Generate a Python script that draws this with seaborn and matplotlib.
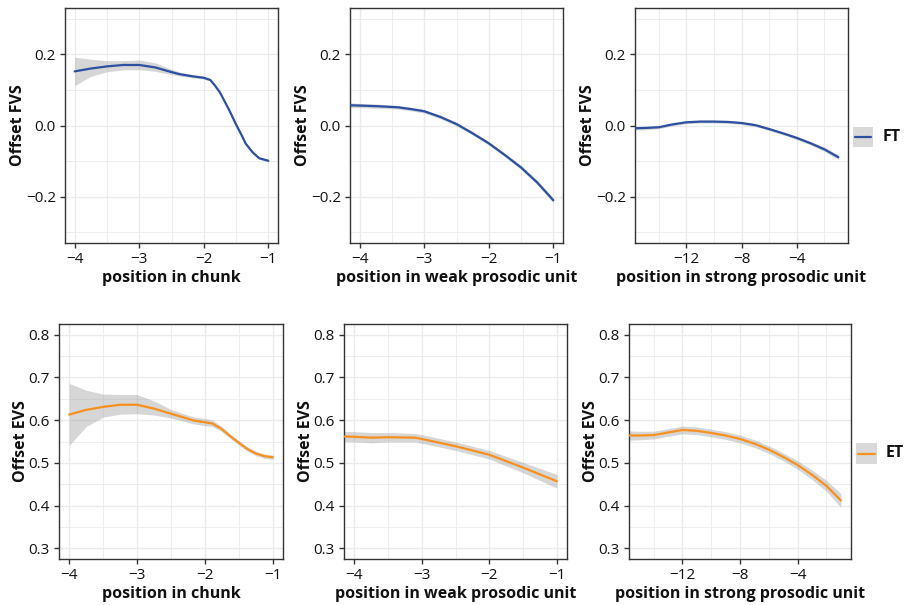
import numpy as np
import pandas as pd
import matplotlib
matplotlib.use("Agg")
import matplotlib.pyplot as plt
import seaborn as sns

sns.set_theme(style="white")
plt.rcParams['font.family'] = ['Open Sans', 'DejaVu Sans']

# ---------------- data ----------------
# FT, position in chunk
ft_chunk_x = [-4, -3.75, -3.5, -3.25, -3, -2.75, -2.5, -2.37, -2.17, -2, -1.9, -1.83, -1.75, -1.68, -1.6, -1.5, -1.42, -1.35, -1.24, -1.14, -1]
ft_chunk_y = [0.152, 0.160, 0.166, 0.170, 0.170, 0.163, 0.150, 0.144, 0.138, 0.134, 0.128, 0.113, 0.093, 0.069, 0.041, 0.003, -0.025, -0.051, -0.076, -0.092, -0.099]
ft_chunk_lo = [0.112, 0.138, 0.151, 0.156, 0.157, 0.152, 0.143, 0.139, 0.134, 0.130, 0.125, 0.110, 0.090, 0.066, 0.038, 0.000, -0.028, -0.054, -0.079, -0.095, -0.102]
ft_chunk_hi = [0.192, 0.186, 0.182, 0.182, 0.184, 0.176, 0.158, 0.150, 0.143, 0.138, 0.131, 0.116, 0.096, 0.072, 0.044, 0.006, -0.022, -0.048, -0.073, -0.089, -0.096]

# FT, position in weak prosodic unit
ft_weak_x = [-4.2, -4, -3.7, -3.4, -3.2, -3, -2.75, -2.5, -2.25, -2, -1.75, -1.5, -1.25, -1]
ft_weak_y = [0.057, 0.056, 0.054, 0.051, 0.046, 0.040, 0.024, 0.004, -0.022, -0.050, -0.083, -0.118, -0.160, -0.210]
ft_weak_lo = [0.050, 0.050, 0.048, 0.046, 0.041, 0.035, 0.019, -0.001, -0.027, -0.055, -0.088, -0.124, -0.166, -0.217]
ft_weak_hi = [0.064, 0.062, 0.060, 0.056, 0.051, 0.045, 0.029, 0.009, -0.017, -0.045, -0.078, -0.112, -0.154, -0.203]

# FT, position in strong prosodic unit
ft_strong_x = [-16, -15, -14, -13, -12, -11, -10, -9, -8, -7, -6, -5, -4, -3, -2, -1]
ft_strong_y = [-0.008, -0.007, -0.005, 0.003, 0.009, 0.011, 0.011, 0.010, 0.007, 0.001, -0.010, -0.022, -0.035, -0.050, -0.067, -0.089]
ft_strong_lo = [-0.013, -0.012, -0.009, -0.001, 0.005, 0.007, 0.007, 0.006, 0.003, -0.003, -0.014, -0.026, -0.040, -0.055, -0.073, -0.096]
ft_strong_hi = [-0.003, -0.002, -0.001, 0.007, 0.013, 0.015, 0.015, 0.014, 0.011, 0.005, -0.006, -0.018, -0.030, -0.045, -0.061, -0.082]

# ET, position in chunk
et_chunk_x = [-4, -3.75, -3.5, -3.25, -3, -2.75, -2.5, -2.35, -2.16, -2, -1.89, -1.76, -1.64, -1.5, -1.38, -1.25, -1.13, -1]
et_chunk_y = [0.613, 0.624, 0.631, 0.636, 0.636, 0.627, 0.615, 0.608, 0.599, 0.595, 0.592, 0.580, 0.564, 0.547, 0.533, 0.522, 0.516, 0.513]
et_chunk_lo = [0.541, 0.585, 0.607, 0.614, 0.615, 0.612, 0.605, 0.599, 0.591, 0.587, 0.585, 0.574, 0.559, 0.542, 0.528, 0.517, 0.511, 0.508]
et_chunk_hi = [0.686, 0.670, 0.661, 0.660, 0.660, 0.645, 0.625, 0.617, 0.607, 0.604, 0.600, 0.586, 0.569, 0.552, 0.538, 0.527, 0.521, 0.518]

# ET, position in weak prosodic unit
et_weak_x = [-4.2, -4, -3.75, -3.5, -3.1, -3, -2.5, -2, -1.5, -1]
et_weak_y = [0.562, 0.561, 0.559, 0.560, 0.559, 0.556, 0.539, 0.519, 0.489, 0.457]
et_weak_lo = [0.550, 0.549, 0.547, 0.549, 0.549, 0.546, 0.529, 0.509, 0.477, 0.441]
et_weak_hi = [0.574, 0.573, 0.571, 0.571, 0.569, 0.566, 0.549, 0.529, 0.501, 0.473]

# ET, position in strong prosodic unit
et_strong_x = [-16, -15, -14, -13, -12, -11, -10, -9, -8, -7, -6, -5, -4, -3, -2, -1]
et_strong_y = [0.564, 0.564, 0.565, 0.571, 0.577, 0.575, 0.570, 0.564, 0.556, 0.545, 0.531, 0.514, 0.495, 0.472, 0.446, 0.412]
et_strong_lo = [0.553, 0.554, 0.556, 0.562, 0.568, 0.566, 0.561, 0.555, 0.547, 0.536, 0.522, 0.505, 0.485, 0.461, 0.433, 0.396]
et_strong_hi = [0.575, 0.574, 0.574, 0.580, 0.586, 0.584, 0.579, 0.573, 0.565, 0.554, 0.540, 0.523, 0.505, 0.483, 0.459, 0.428]

x_labels = ["position in chunk", "position in weak prosodic unit", "position in strong prosodic unit"]
row_ylabels = ["Offset FVS", "Offset EVS"]
groups = ["FT", "ET"]
colors = {"FT": "#2D4FA1", "ET": "#F7901E"}

chunk_ticks = [-4, -3, -2, -1]
strong_ticks = [-12, -8, -4]
ft_yticks = [-0.2, 0.0, 0.2]
et_yticks = [0.3, 0.4, 0.5, 0.6, 0.7, 0.8]

# --------------- layout ---------------
W, H = 907, 605
fig = plt.figure(figsize=(W / 100, H / 100), dpi=100)

def ax_at(l, r, t, b):
    return fig.add_axes([l / W, 1 - b / H, (r - l) / W, (b - t) / H])

top_boxes = [(65, 278), (350, 563), (635, 848)]
bot_boxes = [(59, 283), (344, 567), (629, 851)]

panels = [
    (0, 0, ft_chunk_x, ft_chunk_y, ft_chunk_lo, ft_chunk_hi),
    (0, 1, ft_weak_x, ft_weak_y, ft_weak_lo, ft_weak_hi),
    (0, 2, ft_strong_x, ft_strong_y, ft_strong_lo, ft_strong_hi),
    (1, 0, et_chunk_x, et_chunk_y, et_chunk_lo, et_chunk_hi),
    (1, 1, et_weak_x, et_weak_y, et_weak_lo, et_weak_hi),
    (1, 2, et_strong_x, et_strong_y, et_strong_lo, et_strong_hi),
]

grid_col = "#EBEBEB"
for row, col, xs, ys, lo, hi in panels:
    if row == 0:
        l, r = top_boxes[col]
        ax = ax_at(l, r, 8, 243)
    else:
        l, r = bot_boxes[col]
        ax = ax_at(l, r, 324, 559)
    g = groups[row]
    df = pd.DataFrame({"x": xs, "y": ys, "lo": lo, "hi": hi, "group": g})
    ax.fill_between(df["x"], df["lo"], df["hi"], color="#999999", alpha=0.4, linewidth=0, zorder=2)
    sns.lineplot(data=df, x="x", y="y", color=colors[g], linewidth=1.6, ax=ax, zorder=3,
                 estimator=None, sort=False)

    # x scale
    if col < 2:
        ax.set_xlim(-4.15, -0.85)
        ax.set_xticks(chunk_ticks)
        ax.set_xticklabels([f"\u2212{abs(t)}" for t in chunk_ticks])
        ax.set_xticks([-3.5, -2.5, -1.5], minor=True)
    else:
        ax.set_xlim(-15.7, -0.3)
        ax.set_xticks(strong_ticks)
        ax.set_xticklabels([f"\u2212{abs(t)}" for t in strong_ticks])
        ax.set_xticks([-14, -10, -6, -2], minor=True)
    # y scale
    if row == 0:
        ax.set_ylim(-0.33, 0.33)
        ax.set_yticks(ft_yticks)
        ax.set_yticklabels(["\u22120.2", "0.0", "0.2"])
        ax.set_yticks([-0.3, -0.1, 0.1, 0.3], minor=True)
    else:
        ax.set_ylim(0.275, 0.825)
        ax.set_yticks(et_yticks)
        ax.set_yticklabels([f"{t:.1f}" for t in et_yticks])
        ax.set_yticks([0.35, 0.45, 0.55, 0.65, 0.75], minor=True)

    ax.grid(True, which="major", color=grid_col, linewidth=1.0, zorder=0)
    ax.grid(True, which="minor", color=grid_col, linewidth=0.6, zorder=0)
    ax.set_axisbelow(True)
    ax.set_facecolor("white")
    for s in ax.spines.values():
        s.set_color("#333333")
        s.set_linewidth(1.0)
    ax.tick_params(axis="both", which="major", length=3.5, width=1.0, color="#333333",
                   labelsize=11, labelcolor="#111111", pad=3, direction="out")
    ax.tick_params(which="minor", length=0)
    ax.tick_params(axis="x", bottom=True)
    ax.tick_params(axis="y", left=True)
    ax.set_xlabel(x_labels[col], fontsize=11.5, fontweight="bold", labelpad=2, color="#111111")
    ax.set_ylabel(row_ylabels[row], fontsize=11.5, fontweight="bold", labelpad=0, color="#111111")

# legends drawn as figure-level keys
from matplotlib.patches import Rectangle
from matplotlib.lines import Line2D
leg_specs = [("FT", 853, 127, 20, 20, 883, 137), ("ET", 856, 443, 21, 21, 886, 453)]
for g, kx, ky, kw, kh, tx, ty in leg_specs:
    fig.patches.append(Rectangle((kx / W, 1 - (ky + kh) / H), kw / W, kh / H,
                                 transform=fig.transFigure, facecolor="#D9D9D9", edgecolor="none"))
    fig.lines.append(Line2D([(kx + 2) / W, (kx + kw - 2) / W], [1 - (ky + kh / 2) / H] * 2,
                            transform=fig.transFigure, color=colors[g], linewidth=1.6))
    fig.text(tx / W, 1 - ty / H, g, fontsize=11.5, fontweight="bold", va="center", ha="left",
             color="#111111")

fig.savefig("out.png", dpi=100)
